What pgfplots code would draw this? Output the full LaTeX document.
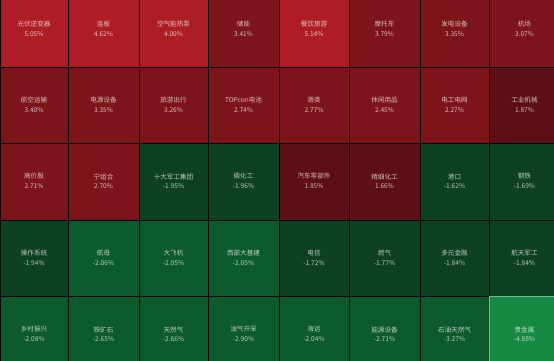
\documentclass[border=0pt]{standalone}
\usepackage{pgfplots}
\pgfplotsset{compat=1.18}
\usepackage{fontspec}
\setmainfont{Noto Sans CJK SC}
\definecolor{rA}{HTML}{AE1C25}
\definecolor{rB}{HTML}{7D1419}
\definecolor{rC}{HTML}{5C0F15}
\definecolor{gC}{HTML}{0E4022}
\definecolor{gB}{HTML}{0D5A2C}
\definecolor{gA}{HTML}{168A42}
% #1 x0, #2 x1, #3 y0, #4 y1, #5 colour, #6 label, #7 value
\newcommand{\cell}[7]{%
  \addplot[fill=#5, draw=black!90!#5, line width=0.8bp] coordinates {(#1,#3) (#2,#3) (#2,#4) (#1,#4)} -- cycle;
  \node[text=white!72!#5, font=\fontsize{6.6}{8}\selectfont, inner sep=0pt] at (axis cs:{(#1+#2)/2},{(#3+#4)/2-5}) {#6};
  \node[text=white!72!#5, font=\fontsize{6.6}{8}\selectfont, inner sep=0pt] at (axis cs:{(#1+#2)/2},{(#3+#4)/2+5}) {#7\%};
}
\begin{document}
\begin{tikzpicture}
\begin{axis}[
  scale only axis, width=554bp, height=361bp,
  xmin=0, xmax=554, ymin=0, ymax=361, y dir=reverse,
  axis line style={draw=none}, ticks=none, clip=true,
]
% row 1
\cell{0}{68}{-9}{67}{rA}{光伏逆变器}{5.05}
\cell{68}{139}{-9}{67}{rA}{连板}{4.62}
\cell{139}{208}{-9}{67}{rA}{空气能热泵}{4.00}
\cell{208}{279}{-9}{67}{rB}{储能}{3.41}
\cell{279}{349}{-9}{67}{rA}{餐饮旅游}{5.14}
\cell{349}{420}{-9}{67}{rB}{摩托车}{3.79}
\cell{420}{489}{-9}{67}{rB}{发电设备}{3.35}
\cell{489}{560}{-9}{67}{rB}{机场}{3.07}
% row 2
\cell{0}{68}{67}{143}{rB}{航空运输}{3.40}
\cell{68}{139}{67}{143}{rB}{电源设备}{3.35}
\cell{139}{208}{67}{143}{rB}{旅游出行}{3.26}
\cell{208}{279}{67}{143}{rB}{TOPcon电池}{2.74}
\cell{279}{349}{67}{143}{rB}{酒类}{2.77}
\cell{349}{420}{67}{143}{rB}{休闲用品}{2.45}
\cell{420}{489}{67}{143}{rB}{电工电网}{2.27}
\cell{489}{560}{67}{143}{rC}{工业机械}{1.87}
% row 3
\cell{0}{68}{143}{220}{rB}{高价股}{2.71}
\cell{68}{139}{143}{220}{rB}{宁组合}{2.70}
\cell{139}{208}{143}{220}{gC}{十大军工集团}{-1.95}
\cell{208}{279}{143}{220}{gC}{磷化工}{-1.96}
\cell{279}{349}{143}{220}{rC}{汽车零部件}{1.85}
\cell{349}{420}{143}{220}{rC}{精细化工}{1.66}
\cell{420}{489}{143}{220}{gC}{港口}{-1.62}
\cell{489}{560}{143}{220}{gC}{钢铁}{-1.69}
% row 4
\cell{0}{68}{220}{296}{gC}{操作系统}{-1.94}
\cell{68}{139}{220}{296}{gB}{航母}{-2.06}
\cell{139}{208}{220}{296}{gB}{大飞机}{-2.05}
\cell{208}{279}{220}{296}{gB}{西部大基建}{-2.05}
\cell{279}{349}{220}{296}{gC}{电信}{-1.72}
\cell{349}{420}{220}{296}{gC}{燃气}{-1.77}
\cell{420}{489}{220}{296}{gC}{多元金融}{-1.84}
\cell{489}{560}{220}{296}{gC}{航天军工}{-1.84}
% row 5
\cell{0}{68}{296}{373}{gB}{乡村振兴}{-2.08}
\cell{68}{139}{296}{373}{gB}{铁矿石}{-2.65}
\cell{139}{208}{296}{373}{gB}{天然气}{-2.66}
\cell{208}{279}{296}{373}{gB}{油气开采}{-2.90}
\cell{279}{349}{296}{373}{gB}{海运}{-2.04}
\cell{349}{420}{296}{373}{gB}{能源设备}{-2.71}
\cell{420}{489}{296}{373}{gB}{石油天然气}{-3.27}
\cell{489}{560}{296}{373}{gA}{贵金属}{-4.85}
\addplot[draw=gA!60!white, line width=0.8bp] coordinates {(489.5,373) (489.5,296.5) (560,296.5)};
\end{axis}
\pgfresetboundingbox
\path (current axis.south west) rectangle (current axis.north east);
\end{tikzpicture}
\end{document}
